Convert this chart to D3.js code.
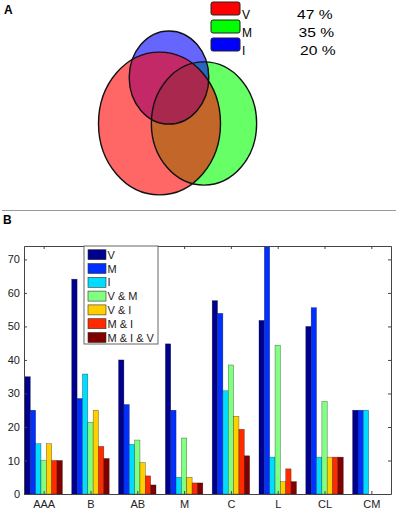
<!DOCTYPE html>
<html>
<head>
<meta charset="utf-8">
<script src="https://cdn.jsdelivr.net/npm/d3@7"></script>
<style>
  body { margin: 0; background: #fff; }
  text { font-family: Arial, "Liberation Sans", sans-serif; }
</style>
</head>
<body>
<div id="chart"></div>
<script>
// Venn data (panel A)
var vennSets = ["V", "M", "I"];
var vennPercent = [47, 35, 20];
var vennColors = ["#ff0000", "#00ff00", "#0000ff"];

// Grouped bar data (panel B)
var categories = ["AAA", "B", "AB", "M", "C", "L", "CL", "CM"];
var seriesNames = ["V", "M", "I", "V & M", "V & I", "M & I", "M & I & V"];
var seriesColors = ["#00008f", "#0030ff", "#00dcff", "#80ff80", "#ffcf00", "#ff2a00", "#800000"];
var valV    = [35, 64.1, 40, 44.8, 57.7, 51.8, 50, 25];
var valM    = [25, 28.5, 26.7, 25, 53.9, 76, 55.6, 25];
var valI    = [15, 35.8, 14.8, 5, 30.8, 11, 11, 25];
var valVM   = [10, 21.4, 16.1, 16.7, 38.5, 44.4, 27.6, 0];
var valVI   = [15, 25, 9.4, 5, 23.2, 3.7, 11, 0];
var valMI   = [10, 14.2, 5.4, 3.3, 19.3, 7.5, 11, 0];
var valMIV  = [10, 10.6, 2.7, 3.3, 11.4, 3.7, 11, 0];
var yTicks = [0, 10, 20, 30, 40, 50, 60, 70];

var seriesValues = [valV, valM, valI, valVM, valVI, valMI, valMIV];

var W = 397, H = 511;
var svg = d3.select("#chart").append("svg")
    .attr("width", W)
    .attr("height", H);

// ---------- Panel A : Venn ----------
svg.append("text")
    .attr("x", 4).attr("y", 14)
    .style("font-size", "12px")
    .style("font-weight", "bold")
    .text("A");

// circle centres (layout) - radius comes from the percentage
var vennCentres = { "V": [159.5, 123.5], "M": [204, 123.5], "I": [169, 77.5] };
var rScale = d3.scaleSqrt().domain([0, 47]).range([0, 61]);
var aspect = 1.17;

var venn = vennSets.map(function(s, i) {
    return { name: s, pct: vennPercent[i], color: vennColors[i],
             cx: vennCentres[s][0], cy: vennCentres[s][1] };
});
// draw order: M, I, V so the blends look right
var drawOrder = [venn[1], venn[2], venn[0]];

svg.append("g").selectAll("ellipse")
    .data(drawOrder)
    .enter().append("ellipse")
    .attr("cx", d => d.cx)
    .attr("cy", d => d.cy)
    .attr("rx", d => rScale(d.pct))
    .attr("ry", d => rScale(d.pct) * aspect)
    .attr("fill", d => d.color)
    .attr("fill-opacity", 0.6);

svg.append("g").selectAll("ellipse")
    .data(drawOrder)
    .enter().append("ellipse")
    .attr("cx", d => d.cx)
    .attr("cy", d => d.cy)
    .attr("rx", d => rScale(d.pct))
    .attr("ry", d => rScale(d.pct) * aspect)
    .attr("fill", "none")
    .attr("stroke", "#111")
    .attr("stroke-width", 1.4);

// venn legend
var vleg = svg.append("g").selectAll("g")
    .data(venn)
    .enter().append("g")
    .attr("transform", (d, i) => "translate(211," + (2 + i * 18) + ")");
vleg.append("rect")
    .attr("width", 29).attr("height", 13)
    .attr("rx", 2)
    .attr("fill", d => d.color)
    .attr("stroke", "#222")
    .attr("stroke-width", 1);
vleg.append("text")
    .attr("x", 31).attr("y", 17)
    .style("font-size", "12px")
    .text(d => d.name);
vleg.append("text")
    .attr("transform", (d, i) => "translate(" + (86 + i * 1.5) + ",17) scale(1.3,1)")
    .style("font-size", "12px")
    .text(d => d.pct + " %");

// separator
svg.append("line")
    .attr("x1", 2).attr("x2", 396)
    .attr("y1", 210.5).attr("y2", 210.5)
    .attr("stroke", "#999")
    .attr("stroke-width", 1.2);

// ---------- Panel B : grouped bars ----------
svg.append("text")
    .attr("x", 3).attr("y", 224)
    .style("font-size", "12px")
    .style("font-weight", "bold")
    .text("B");

var plotL = 24, plotR = 391, plotT = 246, plotB = 494;

var x = d3.scaleLinear().domain([-0.42, categories.length - 1 + 0.42]).range([plotL, plotR]);
var inner = d3.scaleBand().domain(seriesNames).range([-0.4, 0.4]);
var y = d3.scaleLinear().domain([0, 74]).range([plotB, plotT]);

svg.append("clipPath").attr("id", "plotclip")
    .append("rect")
    .attr("x", plotL).attr("y", plotT)
    .attr("width", plotR - plotL).attr("height", plotB - plotT);

var barData = [];
categories.forEach(function(c, ci) {
    seriesNames.forEach(function(s, si) {
        barData.push({ cat: ci, series: s, color: seriesColors[si], value: seriesValues[si][ci] });
    });
});

svg.append("g")
    .attr("clip-path", "url(#plotclip)")
    .selectAll("rect")
    .data(barData.filter(d => d.value > 0))
    .enter().append("rect")
    .attr("x", d => x(d.cat + inner(d.series)))
    .attr("y", d => y(d.value))
    .attr("width", d => x(d.cat + inner(d.series) + inner.bandwidth()) - x(d.cat + inner(d.series)))
    .attr("height", d => plotB - y(d.value))
    .attr("fill", d => d.color)
    .attr("stroke", "#111")
    .attr("stroke-opacity", 0.6)
    .attr("stroke-width", 0.5);

var catIdx = d3.range(categories.length);

// axes (ticks inward, box around)
svg.append("g")
    .attr("transform", "translate(" + plotL + ",0)")
    .call(d3.axisLeft(y).tickValues(yTicks).tickSizeInner(-3).tickSizeOuter(0).tickPadding(4));
svg.append("g")
    .attr("transform", "translate(" + plotR + ",0)")
    .call(d3.axisRight(y).tickValues(yTicks).tickSizeInner(-3).tickSizeOuter(0).tickFormat(""));
svg.append("g")
    .attr("transform", "translate(0," + plotT + ")")
    .call(d3.axisTop(x).tickValues(catIdx).tickSizeInner(-3).tickSizeOuter(0).tickFormat(""));
svg.append("g")
    .attr("transform", "translate(0," + plotB + ")")
    .call(d3.axisBottom(x).tickValues(catIdx).tickSizeInner(-3).tickSizeOuter(0).tickPadding(6)
        .tickFormat(i => categories[i]));

svg.selectAll(".tick text")
    .style("font-size", "11px")
    .style("font-family", "Arial, 'Liberation Sans', sans-serif")
    .attr("fill", "#222");
svg.selectAll(".domain, .tick line")
    .attr("stroke", "#444");

// bar legend
var legX = 84, legY = 246;
svg.append("rect")
    .attr("x", legX).attr("y", legY)
    .attr("width", 74).attr("height", 98)
    .attr("fill", "#fff")
    .attr("stroke", "#666")
    .attr("stroke-width", 1);

var bleg = svg.append("g").selectAll("g")
    .data(seriesNames)
    .enter().append("g")
    .attr("transform", (d, i) => "translate(" + (legX + 4) + "," + (legY + 8.7 + i * 13.8) + ")");
bleg.append("rect")
    .attr("x", 0).attr("y", -5)
    .attr("width", 18).attr("height", 10)
    .attr("fill", (d, i) => seriesColors[i])
    .attr("stroke", "#333")
    .attr("stroke-width", 0.6);
bleg.append("text")
    .attr("x", 19.5).attr("y", 4)
    .style("font-size", "11px")
    .attr("fill", "#222")
    .text(d => d);
</script>
</body>
</html>
